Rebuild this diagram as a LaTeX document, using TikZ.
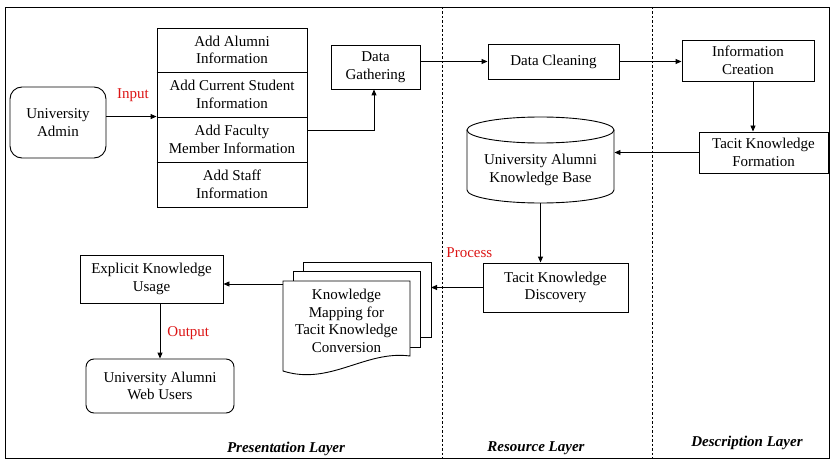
\documentclass[tikz,border=0pt]{standalone}
\usepackage{fontspec}
\setmainfont{Liberation Serif}
\usetikzlibrary{arrows.meta}
\begin{document}
\begin{tikzpicture}[x=1pt,y=-1pt,
  line width=0.9pt,
  box/.style={draw, align=center, inner sep=0pt, font=\fontsize{15}{17.5}\selectfont},
  txt/.style={align=center, inner sep=0pt, font=\fontsize{15}{17.5}\selectfont},
  redlbl/.style={text=labred, inner sep=0pt, font=\fontsize{15}{17}\selectfont},
  layer/.style={inner sep=0pt, font=\fontsize{15}{17}\selectfont\bfseries\itshape},
  arr/.style={-{Triangle[length=6pt,width=5pt]}},
  sep/.style={dashed, line width=0.7pt, dash pattern=on 2.5pt off 2pt}]
\definecolor{labred}{RGB}{220,20,20}
\useasboundingbox (0,0) rectangle (831,460);
% frame and layer separators
\draw[line width=0.8pt] (5,7) rectangle (829,458);
\coordinate (s1t) at (442,7); \coordinate (s1b) at (442,458);
\coordinate (s2t) at (652,7); \coordinate (s2b) at (652,458);
\draw[sep] (s1t) -- (s1b);
\draw[sep] (s2t) -- (s2b);
% nodes
\node[box, rounded corners=12pt, minimum width=96pt, minimum height=71pt] (admin) at (58,122.5) {University\\Admin};
\node[box, minimum width=150pt, minimum height=44pt] (r1) at (232,50) {Add Alumni\\Information};
\node[box, minimum width=150pt, minimum height=45pt] (r2) at (232,94.5) {Add Current Student\\Information};
\node[box, minimum width=150pt, minimum height=45pt] (r3) at (232,139.5) {Add Faculty\\Member Information};
\node[box, minimum width=150pt, minimum height=45pt] (r4) at (232,184.5) {Add Staff\\Information};
\draw[line width=1.6pt] (r1.south west) -- (r1.south east);
\draw[line width=1.6pt] (r3.south west) -- (r3.south east);
\node[box, minimum width=89pt, minimum height=44pt] (dg) at (375.5,67) {Data\\Gathering};
\node[box, minimum width=131pt, minimum height=35pt] (dc) at (553.5,61.5) {Data Cleaning};
\node[box, minimum width=132pt, minimum height=41pt] (ic) at (748,60.5) {Information\\Creation};
\node[box, minimum width=129pt, minimum height=41pt] (tkf) at (763.5,152.5) {Tacit Knowledge\\Formation};
% cylinder
\draw (467,130) -- (467,190) arc[start angle=180, end angle=360, x radius=73.5pt, y radius=13pt] -- (614,130);
\draw (540.5,130) ellipse[x radius=73.5pt, y radius=13pt];
\node[minimum width=147pt, minimum height=86pt, inner sep=0pt] (kb) at (540.5,160) {};
\node[txt] (kbt) at (540.5,170) {University Alumni\\Knowledge Base};
\node[box, minimum width=145pt, minimum height=49pt] (tkd) at (555.5,287.5) {Tacit Knowledge\\Discovery};
\node[box, minimum width=143pt, minimum height=48pt] (eku) at (151.5,279) {Explicit Knowledge\\Usage};
\node[box, rounded corners=8pt, minimum width=148pt, minimum height=54pt] (uawu) at (160,386) {University Alumni\\Web Users};
% document stack
\draw (303,271) -- (303,262) -- (431,262) -- (431,337) -- (420,337);
\draw (293,281) -- (293,271) -- (420,271) -- (420,347) -- (410,347);
\draw[fill=white] (283,281) -- (410,281) -- (410,356) .. controls (365,350) and (330,386) .. (283,371) -- cycle;
\node[txt] (doc) at (346.5,321) {Knowledge\\Mapping for\\Tacit Knowledge\\Conversion};
\coordinate (docR) at (431,284);
\coordinate (docL) at (283,284);
% labels
\node[redlbl] (inlbl) at (133,95) {Input};
\node[redlbl, anchor=west] (prlbl) at (446,253) {Process};
\node[redlbl, anchor=west] (outlbl) at (167,333) {Output};
\node[layer] (pl) at (286,449) {Presentation Layer};
\node[layer] (rl) at (536,448) {Resource Layer};
\node[layer] (dl) at (747,443) {Description Layer};
% connectors
\draw[arr] (admin.east |- r3.north west) -- (r3.north west);
\draw[arr] ([yshift=9.5pt]r3.east) -| ([xshift=-1.5pt]dg.south);
\draw[arr] (dg.east |- dc.west) -- (dc.west);
\draw[arr] (dc.east) -- (dc.east -| ic.west);
\draw[arr] ([xshift=5pt]ic.south) -- ([xshift=5pt]ic.south |- tkf.north);
\draw[arr] (tkf.west) -- (tkf.west -| kb.east);
\draw[arr] (kb.south) -- (kb.south |- tkd.north);
\draw[arr] (tkd.west) -- (tkd.west -| docR);
\draw[arr] (docL) -- (docL -| eku.east);
\draw[arr] (eku.south -| uawu.north) -- (uawu.north);
\end{tikzpicture}
\end{document}
